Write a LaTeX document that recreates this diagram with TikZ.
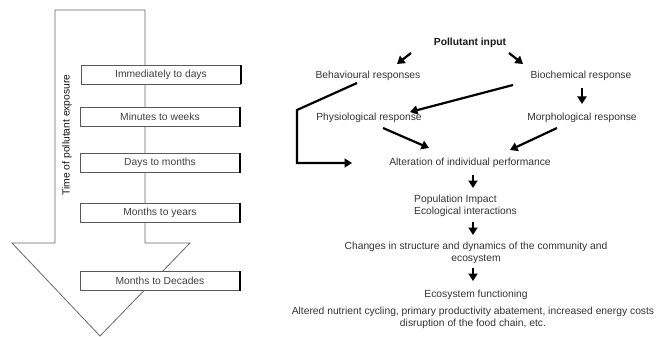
\documentclass[tikz,border=0pt]{standalone}
\usepackage{fontspec}
\setmainfont{Liberation Sans}
\usetikzlibrary{arrows.meta,calc}
\tikzset{
  txt/.style={font=\fontsize{10.3}{12}\selectfont, text=black!80, inner sep=0pt, align=center},
  boxlbl/.style={font=\fontsize{10.3}{12}\selectfont, text=black!75, draw=black!65, line width=0.6pt, fill=white, minimum width=159pt, minimum height=19pt, inner sep=0pt},
  arr/.style={draw=black, line width=2.2pt, -{Triangle[length=7.5pt,width=9pt]}},
  bigarrow/.style={draw=black!60, line width=0.8pt}
}
\begin{document}
\begin{tikzpicture}[x=1pt,y=-1pt]
\useasboundingbox (0,0) rectangle (667,337);
% big time arrow
\draw[bigarrow] (55,10) -- (145,10) -- (145,243) -- (190,243) -- (100,336) -- (12,243) -- (55,243) -- cycle;
\node[txt, rotate=90, text=black!92] (time) at (67,135) {Time of pollutant exposure};
% time boxes
\node[boxlbl] (b1) at (161,74.5) {Immediately to days};
\node[boxlbl] (b2) at (160,117) {Minutes to weeks};
\node[boxlbl] (b3) at (160,163) {Days to months};
\node[boxlbl] (b4) at (160,213) {Months to years};
\node[boxlbl] (b5) at (160,281) {Months to Decades};
\foreach \b in {b1,b2,b3,b4,b5}{
  \draw[line width=1.4pt, black] (\b.north east) -- (\b.south east);
}
% right flow
\node[txt, font=\fontsize{10.3}{12}\selectfont\bfseries, text=black!90] (poll) at (470,43) {Pollutant input};
\node[txt] (behav) at (368,76) {Behavioural responses};
\node[txt] (bioc) at (581,76) {Biochemical response};
\node[txt] (phys) at (369,118) {Physiological response};
\node[txt] (morph) at (582,118) {Morphological response};
\node[txt] (alt) at (470,163) {Alteration of individual performance};
\node[txt, align=left, anchor=west] (pop) at (414,206) {Population Impact\\ Ecological interactions};
\node[txt] (chg) at (476,253) {Changes in structure and dynamics of the community and\\ ecosystem};
\node[txt] (eco) at (476,295) {Ecosystem functioning};
\node[txt] (res) at (473,318) {Altered nutrient cycling, primary productivity abatement, increased energy costs\\ disruption of the food chain, etc.};
% arrows
\draw[arr] ($(poll)+(-59,10)$) -- ($(behav)+(29,-12)$);
\draw[arr] ($(poll)+(39,10)$) -- ($(bioc)+(-58,-12)$);
\draw[arr] ($(bioc)+(-68,9)$) -- ($(phys)+(41,-6)$);
\draw[arr] ($(bioc)+(1,12)$) -- ($(morph)+(0,-14)$);
\draw[arr] ($(phys)+(14,10)$) -- ($(alt)+(-41,-15)$);
\draw[arr] ($(morph)+(-25,10)$) -- ($(alt)+(40,-13)$);
\draw[arr] ($(behav)+(-11,7)$) -- ($(behav)+(-71,34)$) |- ($(alt)+(-118,0)$);
\draw[arr] ($(alt)+(3,12)$) -- ($(alt)+(3,25)$);
\draw[arr] ($(chg)+(-3,-31)$) -- ($(chg)+(-3,-18)$);
\draw[arr] ($(eco)+(-3,-27)$) -- ($(eco)+(-3,-14)$);
\end{tikzpicture}
\end{document}
